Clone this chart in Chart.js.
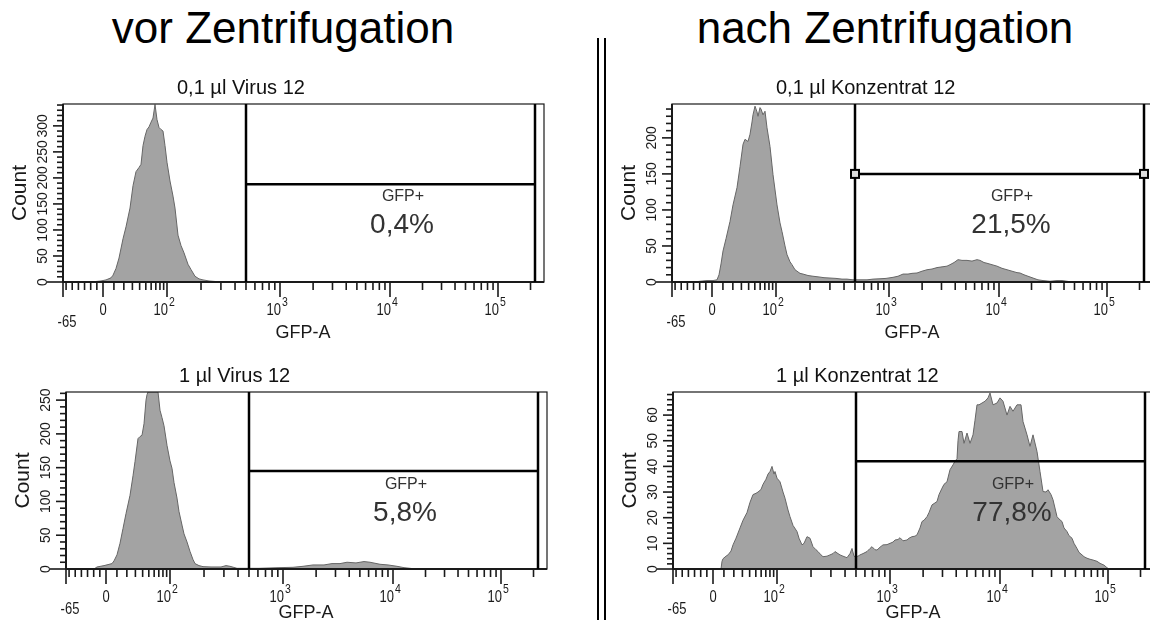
<!DOCTYPE html>
<html lang="de">
<head>
<meta charset="utf-8">
<title>GFP vor und nach Zentrifugation</title>
<script src="https://cdn.jsdelivr.net/npm/chart.js@4.4.1/dist/chart.umd.min.js"></script>
<style>
  html, body { margin: 0; padding: 0; width: 1150px; height: 633px; overflow: hidden; background: #fff; }
  body { position: relative; font-family: "Liberation Sans", Arial, sans-serif; }
  .kopf { position: absolute; top: 2px; width: 560px; font-size: 44px; line-height: 52px; text-align: center; color: #000; }
  #kopfVor { left: 3px; }
  #kopfNach { left: 605px; }
  .trenner { position: absolute; top: 38px; height: 582px; width: 2px; background: #000; }
  canvas { position: absolute; }
</style>
</head>
<body>
<div class="kopf" id="kopfVor">vor Zentrifugation</div>
<div class="kopf" id="kopfNach">nach Zentrifugation</div>
<div class="trenner" style="left:597px"></div>
<div class="trenner" style="left:604px"></div>
<canvas id="p1" width="560" height="280"></canvas>
<canvas id="p2" width="560" height="280"></canvas>
<canvas id="p3" width="560" height="280"></canvas>
<canvas id="p4" width="560" height="280"></canvas>
<script>
// Histogramme: Kanal (Anzeige-Position auf der GFP-A Achse) und Anzahl Zellen
const p1Kanal  = [28, 33, 38, 43, 48, 50, 53, 56, 60, 63, 67, 70, 73, 76, 78, 80, 82, 84, 86, 88, 90, 92, 94, 96, 98, 100, 102, 104, 107, 110, 112, 115, 118, 121, 125, 128, 132, 136, 140, 146, 152, 157];
const p1Anzahl = [0, 1, 2, 4, 8, 13, 26, 46, 83, 106, 142, 185, 212, 220, 226, 262, 280, 293, 298, 307, 315, 341, 312, 297, 293, 290, 262, 230, 194, 165, 142, 90, 70, 56, 34, 24, 11, 6, 4, 2, 1, 0];

const p2Kanal  = [22, 28, 35, 41, 45, 47, 49, 51, 54, 58, 61, 65, 68, 71, 73, 75, 76, 78, 80, 81, 83, 85, 86, 88, 89, 91, 93, 95, 98, 101, 105, 108, 110, 113, 115, 118, 120, 123, 125, 128, 131, 136, 141, 147, 152, 158, 164, 170, 175, 181, 188, 195, 201, 208, 214, 221, 226, 231, 236, 240, 245, 250, 255, 260, 265, 270, 275, 278, 282, 286, 290, 295, 300, 305, 308, 312, 315, 320, 325, 330, 335, 340, 345, 348, 352, 356, 361, 366, 371, 378, 385, 390, 395, 400];
const p2Anzahl = [0, 1, 2, 2, 3, 10, 25, 43, 60, 84, 107, 131, 160, 191, 198, 196, 195, 205, 222, 232, 244, 236, 230, 242, 240, 232, 237, 214, 188, 149, 107, 82, 70, 50, 38, 28, 24, 17, 15, 12, 11, 9, 8, 7, 6, 5.5, 5, 4, 4, 3, 3, 3, 4, 4.5, 5, 6.5, 8, 11, 11, 12, 12.5, 15, 17, 18, 20, 21, 22, 24, 27, 31, 30, 30, 29, 31, 30, 27, 26, 24, 22, 19, 17, 15, 13, 12.5, 10, 8, 5.5, 3, 2, 1, 2, 2, 1, 0];

const p3Kanal  = [28, 31, 38, 46, 48, 51, 54, 57, 60, 64, 67, 69, 72, 74, 76, 78, 80, 81, 82, 92, 94, 96, 98, 101, 104, 106, 108, 111, 113, 116, 118, 121, 124, 127, 129, 133, 137, 145, 155, 160, 164, 171, 180, 193, 213, 227, 237, 247, 258, 266, 274, 281, 290, 298, 304, 314, 322, 331, 338, 344, 350];
const p3Anzahl = [0, 3, 5, 8, 12, 21, 38, 60, 82, 109, 138, 159, 193, 196, 198, 215, 250, 258, 262, 262, 235, 224, 212, 183, 160, 149, 128, 105, 85, 65, 52, 40, 26, 14, 8, 5, 3.5, 3, 3, 5, 4, 1, 1, 1, 2, 2.5, 4, 6, 6, 8, 8, 10, 9, 11, 10, 7, 6, 4, 2, 1, 0];

const p4Kanal  = [48, 49, 50, 53, 55, 58, 60, 63, 67, 70, 74, 77, 80, 83, 85, 88, 90, 93, 95, 97, 99, 101, 102, 104, 107, 110, 112, 115, 117, 120, 124, 126, 129, 131, 134, 137, 140, 143, 145, 148, 150, 154, 157, 160, 162, 165, 167, 170, 174, 177, 179, 181, 182, 185, 187, 190, 194, 197, 199, 202, 204, 207, 210, 214, 217, 220, 222, 225, 227, 230, 234, 236, 239, 242, 244, 247, 249, 251, 254, 256, 259, 261, 264, 266, 269, 271, 274, 277, 280, 282, 284, 285, 286, 289, 291, 294, 297, 300, 302, 304, 306, 309, 312, 315, 317, 320, 324, 327, 330, 334, 337, 340, 344, 348, 350, 354, 357, 360, 364, 367, 370, 373, 375, 378, 380, 384, 386, 389, 391, 394, 396, 399, 401, 404, 406, 409, 411, 414, 417, 420, 424, 427, 431, 434, 436];
const p4Anzahl = [0, 3, 4, 5, 5.5, 7, 9.4, 12, 16, 19, 22, 26, 29, 29.5, 30, 31, 33, 35, 37, 38, 40, 37, 38, 35.4, 34, 30, 27.6, 23, 20.4, 17, 14.6, 12, 9.4, 10, 12.6, 12, 8.7, 7.5, 6.8, 5.5, 4.8, 5, 5.5, 6, 6.8, 6, 5.5, 5, 4.4, 6, 8, 5, 4.8, 5, 5.5, 6, 6.8, 8, 8.7, 7.5, 7.4, 8.5, 9.4, 9.5, 10, 10.5, 11.3, 11.5, 12.2, 11, 11.3, 12, 12.6, 12.8, 13.3, 16, 18.5, 19, 20.4, 22, 25, 25.5, 26.3, 29, 31.5, 33, 34, 38.7, 40.6, 42, 43, 50, 53.6, 53.6, 49, 53, 49, 52.3, 58, 64, 64, 64.7, 65.4, 66.7, 68.6, 64, 64.7, 66.7, 65.4, 60, 63.4, 61.5, 64, 64, 57.5, 52.3, 47.8, 52.3, 45.8, 38, 30.2, 30, 30.9, 29, 27, 20.4, 19.5, 18.5, 16, 14.6, 13, 12, 10, 8, 6.5, 5.5, 4.8, 4.2, 3.8, 3.5, 3, 2.2, 1.5, 0.5, 0];

// Beschriftungen und Gate je Plot (Reihenfolge: oben links, oben rechts, unten links, unten rechts)
const titel     = ['0,1 µl Virus 12', '0,1 µl Konzentrat 12', '1 µl Virus 12', '1 µl Konzentrat 12'];
const anteilGFP = ['0,4%', '21,5%', '5,8%', '77,8%'];
const gateHoehe = [188, 150, 145, 42];
const yMaximum  = [342, 247, 262, 69];
const ySchritt  = [50, 50, 50, 10];
const yFein     = [10, 10, 10, 2];
const gateKanal = [183, 472]; // linke und rechte Gate-Grenze (Anzeigekanal)

// Achse GFP-A
const xWerte  = [-65, 0, 100, 1000, 10000, 100000];
const xLabels = ['-65', '0', '10^2', '10^3', '10^4', '10^5'];

const kanaele = [p1Kanal, p2Kanal, p3Kanal, p4Kanal];
const anzahlen = [p1Anzahl, p2Anzahl, p3Anzahl, p4Anzahl];

// Lage der einzelnen Plots auf der Seite
const lage = [
    { id: 'p1', left: 0,   top: 70,  padTop: 34, hoehe: 178, titelX: 114, achsTitel: 51, griffe: false },
    { id: 'p2', left: 609, top: 70,  padTop: 34, hoehe: 178, titelX: 104, achsTitel: 51, griffe: true },
    { id: 'p3', left: 3,   top: 357, padTop: 35, hoehe: 177, titelX: 113, achsTitel: 44, griffe: false },
    { id: 'p4', left: 610, top: 357, padTop: 35, hoehe: 177, titelX: 103, achsTitel: 44, griffe: false }
];

// biexponentielle Darstellung: Wert -> Anzeigekanal
function kanal(v) {
    if (v < 0) return 40 + v * 40 / 65;
    if (v <= 100) return 40 + 64 * Math.asinh(v / 30) / Math.asinh(100 / 30);
    const dek = [104, 217, 327, 435, 543];
    const l = Math.log10(v) - 2;
    const k = Math.min(Math.floor(l), 3);
    return dek[k] + (l - k) * (dek[k + 1] - dek[k]);
}

// kleine Striche zwischen den Hauptwerten
const xNeben = [];
for (let v = -60; v < 0; v += 10) xNeben.push(v);
for (let v = 10; v < 100; v += 10) xNeben.push(v);
for (let d = 100; d <= 10000; d *= 10) {
    for (let m = 2; m <= 9; m++) xNeben.push(m * d);
}
xNeben.push(200000);

const SCHRIFT = '"Liberation Sans", Arial, sans-serif';

function text(ctx, s, x, y, px, align, farbe, sy) {
    ctx.save();
    ctx.translate(x, y);
    ctx.scale(1, sy || 1);
    ctx.font = px + 'px ' + SCHRIFT;
    ctx.textAlign = align;
    ctx.textBaseline = 'middle';
    ctx.fillStyle = farbe || '#111';
    ctx.fillText(s, 0, 0);
    ctx.restore();
}

function strich(ctx, x1, y1, x2, y2) {
    ctx.beginPath();
    ctx.moveTo(x1, y1);
    ctx.lineTo(x2, y2);
    ctx.stroke();
}

// Rahmen, Achsen, Gate und Texte
const flowPlot = {
    id: 'flowPlot',
    afterDatasetsDraw(chart, args, o) {
        const { ctx, chartArea: a, scales: { x, y } } = chart;
        ctx.save();
        ctx.strokeStyle = '#1a1a1a';
        ctx.lineWidth = 1.2;
        ctx.strokeRect(a.left, a.top, a.right - a.left, a.bottom - a.top);
        ctx.lineWidth = 2;
        strich(ctx, a.left, a.top, a.left, a.bottom);
        strich(ctx, a.left, a.bottom, a.right, a.bottom);

        // x-Achse
        ctx.lineWidth = 1.6;
        xWerte.forEach(v => {
            const px = x.getPixelForValue(kanal(v));
            strich(ctx, px, a.bottom, px, a.bottom + 15);
        });
        xNeben.forEach(v => {
            const px = x.getPixelForValue(kanal(v));
            strich(ctx, px, a.bottom, px, a.bottom + 8);
        });
        xLabels.forEach((lab, i) => {
            const px = x.getPixelForValue(kanal(xWerte[i]));
            if (lab.includes('^')) {
                const [b, e] = lab.split('^');
                text(ctx, b, px + 1, a.bottom + 28, 13, 'right', '#1a1a1a', 1.3);
                text(ctx, e, px + 2, a.bottom + 20, 10.5, 'left', '#1a1a1a', 1.3);
            } else if (xWerte[i] < 0) {
                text(ctx, lab, px + 4, a.bottom + 40, 13, 'center', '#1a1a1a', 1.3);
            } else {
                text(ctx, lab, px, a.bottom + 28, 13, 'center', '#1a1a1a', 1.3);
            }
        });
        text(ctx, 'GFP-A', a.left + 240, a.bottom + o.achsTitel, 18, 'center', '#1a1a1a');

        // y-Achse
        ctx.lineWidth = 1.6;
        for (let v = 0; v <= y.max; v += o.yFein) {
            const py = y.getPixelForValue(v);
            const haupt = v % o.ySchritt === 0;
            const len = v === 0 ? 16 : (haupt ? 10 : 6);
            strich(ctx, a.left, py, a.left - len, py);
            if (haupt) {
                ctx.save();
                ctx.translate(a.left - 20, py);
                ctx.rotate(-Math.PI / 2);
                text(ctx, String(v), 0, 0, 14, 'center', '#1a1a1a');
                ctx.restore();
            }
        }
        ctx.save();
        ctx.translate(a.left - 43, (a.top + a.bottom) / 2);
        ctx.rotate(-Math.PI / 2);
        text(ctx, 'Count', 0, 0, 21, 'center', '#1a1a1a');
        ctx.restore();

        // Gate GFP+
        const gx1 = x.getPixelForValue(o.gateVon);
        const gx2 = x.getPixelForValue(o.gateBis);
        const gy = y.getPixelForValue(o.gate);
        ctx.strokeStyle = '#000';
        ctx.lineWidth = 2.5;
        strich(ctx, gx1, a.top, gx1, a.bottom);
        strich(ctx, gx2, a.top, gx2, a.bottom);
        strich(ctx, gx1, gy, gx2, gy);
        if (o.griffe) {
            ctx.lineWidth = 2;
            [gx1, gx2].forEach(gx => {
                ctx.fillStyle = '#ddd';
                ctx.fillRect(gx - 4, gy - 4, 8, 8);
                ctx.strokeRect(gx - 4, gy - 4, 8, 8);
            });
        }
        text(ctx, 'GFP+', a.left + 340, a.top + 93, 16, 'center', '#333');
        text(ctx, o.anteil, a.left + 339, a.top + 121, 28, 'center', '#333');

        // Titel
        text(ctx, o.titel, a.left + o.titelX, a.top - 16, 20, 'left', '#111');
        ctx.restore();
    }
};

lage.forEach((l, i) => {
    const canvas = document.getElementById(l.id);
    canvas.style.left = l.left + 'px';
    canvas.style.top = l.top + 'px';
    new Chart(canvas.getContext('2d'), {
        type: 'line',
        data: {
            datasets: [{
                data: kanaele[i].map((k, j) => ({ x: k, y: anzahlen[i][j] })),
                fill: 'origin',
                backgroundColor: '#a3a3a3',
                borderColor: '#666',
                borderWidth: 1,
                pointRadius: 0,
                tension: 0
            }]
        },
        options: {
            responsive: false,
            animation: false,
            events: [],
            layout: { padding: { left: 63, top: l.padTop, right: 16, bottom: 280 - l.padTop - l.hoehe } },
            scales: {
                x: { type: 'linear', min: 0, max: 481, display: false },
                y: { type: 'linear', min: 0, max: yMaximum[i], display: false }
            },
            plugins: {
                legend: { display: false },
                tooltip: { enabled: false },
                flowPlot: {
                    titel: titel[i],
                    anteil: anteilGFP[i],
                    gate: gateHoehe[i],
                    gateVon: gateKanal[0],
                    gateBis: gateKanal[1],
                    ySchritt: ySchritt[i],
                    yFein: yFein[i],
                    achsTitel: l.achsTitel,
                    titelX: l.titelX,
                    griffe: l.griffe
                }
            }
        },
        plugins: [flowPlot]
    });
});
</script>
</body>
</html>
